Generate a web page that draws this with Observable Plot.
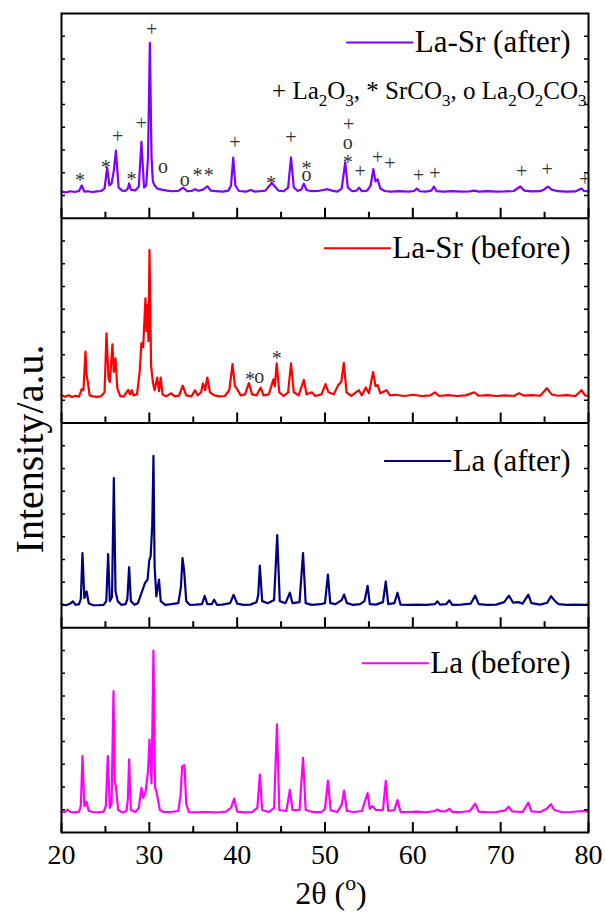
<!DOCTYPE html>
<html><head><meta charset="utf-8">
<script src="https://cdn.jsdelivr.net/npm/d3@7"></script>
<script src="https://cdn.jsdelivr.net/npm/@observablehq/plot@0.6"></script>
<style>
html,body{margin:0;padding:0;background:#fff;}
#chart svg{display:block;}
#chart svg, #chart svg text, #chart svg tspan{font-family:"Liberation Serif","Times New Roman",Times,serif !important;}
</style>
</head><body><div id="chart"></div>
<script>
// ---------- data (2θ, relative intensity within each panel, 0..100) ----------
const samples = ["La (before)", "La (after)", "La-Sr (before)", "La-Sr (after)"]; // bottom → top
const colors  = ["#FF00FF", "#000080", "#FF0000", "#8000FF"];

const laBefore = [
[20,10.2],[20.4,10],[20.7,11.2],[21,10],[21.5,9.8],[22.0,10.2],[22.2,13],[22.39,37.3],[22.6,13],[22.85,15],[23.1,10.5],[23.6,10],[24.2,9.8],[24.8,10.2],[25.05,13],[25.27,37.3],[25.5,12],[25.7,14],[25.92,69],[26.05,25],[26.19,22.6],[26.45,11],[26.9,9.8],[27.4,10.5],[27.55,16],[27.7,35.7],[27.9,11],[28.4,10],[28.8,12],[29.1,21.8],[29.3,17],[29.56,19.4],[29.85,30],[30.02,45.4],[30.25,24],[30.47,88.9],[30.65,22],[30.8,20.2],[31.2,11],[31.6,10],[32.4,10],[33.3,10.5],[33.55,18],[33.74,32.4],[34.0,32.9],[34.2,14],[34.5,10],[35.3,9.8],[36.3,10],[37.3,9.8],[38.2,10],[38.7,10.2],[39.3,12],[39.66,16.6],[40.0,10.2],[40.8,9.8],[41.7,10],[42.3,12],[42.58,28.3],[42.85,11],[43.6,10],[44.2,12],[44.53,52.8],[44.8,11],[45.6,10.5],[46.0,20.8],[46.3,11],[47.1,11],[47.5,36.5],[47.8,11],[48.6,10],[49.6,10],[50.0,11.5],[50.33,25.4],[50.65,10.8],[51.4,10],[51.9,13.5],[52.17,20.5],[52.5,10.5],[53.3,10],[54.2,10.5],[54.85,19.2],[55.1,11.5],[55.4,12.9],[55.8,11],[56.6,11],[56.92,25.2],[57.2,10.5],[57.9,11],[58.25,15.8],[58.6,10],[59.5,10],[60.5,10.2],[61.5,9.9],[62.5,10.5],[62.8,11.2],[63.2,10.3],[63.8,10.4],[64.15,11.6],[64.5,10],[65.5,10],[66.5,10.5],[67.1,14.1],[67.5,10.2],[68.5,9.9],[69.5,10],[70.5,10.8],[70.9,12.6],[71.3,10.3],[72.5,10],[73.15,14.6],[73.5,10.3],[74.5,10],[75.2,11.5],[75.73,13.8],[76.1,11],[77,9.9],[78,10],[79.3,10.5],[80,10.2]
];
const laAfter = [
[20,11.5],[20.5,11],[21,11.8],[21.3,12.9],[21.6,11.2],[22.0,11.5],[22.2,14],[22.39,36.5],[22.6,14.5],[22.85,17.8],[23.1,12],[23.6,11],[24.2,11],[24.8,11.2],[25.1,13],[25.31,36],[25.5,13],[25.75,15],[25.96,73.1],[26.15,18],[26.4,13],[26.8,11.2],[27.3,11.5],[27.5,14],[27.7,29.6],[27.9,13],[28.3,11.2],[28.7,12],[29.1,16.9],[29.5,21.8],[29.8,23.5],[30.0,33.2],[30.15,34.9],[30.33,50],[30.47,84],[30.6,30],[30.8,15.3],[31.1,23.5],[31.3,13],[31.8,11.2],[32.5,11.5],[33.3,12],[33.6,20],[33.78,34],[33.97,27.5],[34.2,13],[34.6,11.2],[35.3,11.3],[36.0,11.5],[36.3,15.6],[36.6,11.5],[37.1,11.5],[37.38,13.7],[37.7,11.2],[38.3,11.3],[39.2,12],[39.6,16.1],[40.0,11.8],[40.7,11.2],[41.5,11.3],[42.2,12.5],[42.4,16],[42.58,30.3],[42.85,13],[43.5,12],[44.2,13.5],[44.56,45.2],[44.85,13],[45.5,12],[46.0,17.1],[46.3,12],[47.1,12.5],[47.5,36.5],[47.8,12],[48.5,11.2],[49.5,11.5],[50.0,12],[50.33,26],[50.6,12],[51.2,11.5],[51.9,13.5],[52.17,16.2],[52.5,12],[53.2,11.2],[54.0,11.5],[54.5,13],[54.85,20.5],[55.1,11.5],[55.8,11.3],[56.6,12.5],[56.92,22.6],[57.2,11.5],[57.9,12],[58.25,17.1],[58.6,11.3],[59.5,11.2],[60.5,11.3],[61.5,11.2],[62.5,11.5],[62.8,12.9],[63.1,11.3],[63.8,11.5],[64.15,13.4],[64.5,11.2],[65.5,11.3],[66.6,11.8],[67.1,15.7],[67.5,11.5],[68.5,11.2],[69.5,11.3],[70.4,12.5],[70.94,15.7],[71.4,12.3],[72,12.5],[72.5,11.8],[73.15,16.2],[73.5,12],[74.5,11.3],[75.3,12.2],[75.73,15.4],[76.2,13],[76.6,11.5],[77.5,11.2],[78.5,11.3],[79.5,11.2],[80,11.3]
];
const laSrBefore = [
[20,13.5],[20.4,12.8],[20.8,13.6],[21.2,12.7],[21.6,13.3],[22.0,12.9],[22.3,16.5],[22.5,16],[22.73,34.9],[22.85,24],[23.0,20],[23.2,13.5],[23.6,13],[24.0,12.8],[24.5,13],[24.9,15],[25.12,43.8],[25.35,22],[25.5,20],[25.8,38.4],[25.95,25],[26.15,31.6],[26.35,17],[26.7,13],[27.1,13],[27.4,15],[27.6,16.1],[27.8,14],[28.0,16],[28.2,13.5],[28.6,14],[28.9,25],[29.1,39],[29.3,37],[29.56,60.9],[29.68,45],[29.8,57.7],[29.9,40],[30.02,84.5],[30.2,28],[30.4,20],[30.6,16],[30.9,22.2],[31.1,15.5],[31.3,22.2],[31.5,14],[31.9,13],[32.5,14.5],[32.9,13],[33.4,13.5],[33.8,18.2],[34.2,13.5],[34.8,13],[35.2,16],[35.5,13.5],[35.9,15],[36.1,19.4],[36.35,16],[36.6,22.2],[36.9,15],[37.4,13.5],[38.0,13],[38.6,13.2],[39.1,16],[39.47,28.8],[39.75,18],[40.0,16.5],[40.4,13.5],[40.9,14],[41.33,19.5],[41.7,14],[42.2,13.5],[42.68,17.3],[43.0,13.5],[43.6,14],[44.13,21.3],[44.3,18],[44.5,29.1],[44.8,15],[45.3,13.2],[45.8,15],[46.13,29.1],[46.45,15],[47.0,13.5],[47.59,21],[47.9,14],[48.5,15],[48.9,13.2],[49.6,14],[50.06,19],[50.4,15],[51.0,14],[51.5,18.5],[51.85,20],[52.14,29.4],[52.45,15],[53.0,13.2],[53.86,16],[54.2,13.5],[54.65,17.3],[55.0,14.5],[55.48,24.9],[55.75,18],[56.0,18.5],[56.3,14.5],[57.0,16],[57.4,13.5],[58.0,13.8],[59,13.2],[60,13.8],[61,13.2],[62,13.5],[62.5,15],[63,13.2],[64,13.6],[65,13.2],[66,13.5],[67,15],[67.5,13.3],[68.5,13.6],[69.5,13.2],[70.5,13.5],[71.5,13.2],[72.1,14.6],[72.6,13.4],[73.5,13.6],[74.5,13.3],[75.26,17],[75.8,14],[76.5,13.3],[77.5,13.6],[78.5,13.2],[79.2,16],[79.6,13.5],[80,13.2]
];
const laSrAfter = [
[20,13],[20.5,12.6],[21,13.2],[21.5,12.8],[22.0,13.3],[22.3,16],[22.6,13],[23,13.2],[23.5,12.8],[24,13.1],[24.5,13.3],[24.9,14.5],[25.2,24.8],[25.45,16],[25.7,17],[25.95,23],[26.2,33],[26.5,15],[26.9,13.5],[27.3,13.4],[27.55,14.5],[27.7,17],[27.9,14],[28.4,13.6],[28.8,15.5],[29.1,37.3],[29.4,15],[29.65,16],[29.85,30],[30.06,85.7],[30.25,30],[30.4,18],[30.6,16],[30.9,14.5],[31.4,14],[32,13.5],[32.6,13.2],[33.3,13.4],[33.85,15],[34.3,13.2],[34.8,13.3],[35.2,14.2],[35.6,13.4],[36.1,14],[36.6,15.6],[37,13.5],[37.6,13.2],[38.4,13.0],[39.0,13.5],[39.3,16],[39.55,29.6],[39.8,16],[40.2,13.3],[41,13],[41.55,13.8],[42,13],[42.5,13.2],[43.2,13.5],[43.6,15.5],[43.95,17.2],[44.3,15.5],[44.7,13.5],[45.3,13.2],[45.8,15],[46.13,29.7],[46.45,15],[46.9,13.3],[47.3,14],[47.59,16.9],[47.9,13.8],[48.5,13.2],[49.2,13.3],[49.8,13.8],[50.3,14.2],[50.8,13.5],[51.4,13],[51.9,14.5],[52.3,27.3],[52.6,15],[53.1,13.2],[53.6,13.5],[53.86,15],[54.2,13.2],[54.8,13.5],[55.2,16],[55.5,24],[55.75,18],[56.0,19],[56.3,14.5],[56.8,13.3],[57.5,13],[58.5,13.2],[59.5,13],[60.1,13.3],[60.46,14.5],[60.8,13.2],[61.5,13],[62.1,13.5],[62.4,15.5],[62.7,13.2],[63.5,13],[64.5,13.2],[65.5,13],[66.5,13.1],[67,13.5],[67.5,13],[68.5,13.2],[69.5,13],[70.5,13.1],[71.5,13.3],[72.24,15.5],[72.7,13.5],[73.5,13.1],[74.5,13.2],[75.0,14.2],[75.38,15.5],[75.8,14],[76.5,13.2],[77.5,13],[78.5,13.1],[79.2,14.5],[79.5,13.3],[80,13.2]
];
const seriesData = [laBefore, laAfter, laSrBefore, laSrAfter];

// phase markers: [2θ, relative height, symbol]
const laSrAfterMarks = [
[22.1,20.2,"*"],[25.05,26.7,"*"],[26.4,38.9,"+"],[27.97,20.7,"*"],[29.1,45.1,"+"],[30.25,91,"+"],[31.57,24.3,"o"],[34.04,18.1,"o"],[35.48,22.6,"*"],[36.77,22.6,"*"],[39.73,36,"+"],[43.85,18.9,"*"],[46.13,38.2,"+"],[47.9,26,"*"],[47.9,20.4,"o"],[52.6,29.3,"*"],[52.6,35.8,"o"],[52.7,44.8,"+"],[54.0,21.9,"+"],[56.0,28.7,"+"],[57.4,25.6,"+"],[60.66,19.7,"+"],[62.5,20.9,"+"],[72.4,21.9,"+"],[75.3,22.8,"+"],[79.6,18,"+"]
];
const laSrBeforeMarks = [[41.45,23.2,"*"],[42.5,21.9,"o"],[44.5,33.3,"*"]];
const phaseKey = "+ La2O3, * SrCO3, o La2O2CO3";

const xTicks = [20,30,40,50,60,70,80];
const xMinorTicks = [25,35,45,55,65,75];
const xTitle = "2θ (o)";
const yTitle = "Intensity/a.u.";

// ---------- layout ----------
const W = 605, H = 914, mL = 61, mR = 17, mT = 13, mB = 82;
const pxY = (H - mT - mB) / 400, pxX = (W - mL - mR) / 60;
const uy = px => px / pxY, ux = px => px / pxX;
const FONT = "'Liberation Serif','Times New Roman',Times,serif";
const panels = [0, 100, 200, 300];

const rows = seriesData.flatMap((pts, k) => pts.map(([t, v]) => ({sample: samples[k], theta: t, y: panels[k] + v})));
const markRows = [
  ...laSrAfterMarks.map(([t, v, s]) => ({theta: t, y: 300 + v, s})),
  ...laSrBeforeMarks.map(([t, v, s]) => ({theta: t, y: 200 + v, s}))
];
const majorRows = panels.flatMap(b => xTicks.map(x => ({x, b})));
const minorRows = panels.flatMap(b => xMinorTicks.map(x => ({x, b})));
const yTickRows = panels.flatMap(b => d3.range(1, 9).map(n => b + n * 100 / 9));

const legendFs = 31, legendGapRight = 18, legendLineLen = 67;
const legendTopPx = [35.5, 38, 30, 29];
const ctx = document.createElement("canvas").getContext("2d");
ctx.font = `${legendFs}px 'Liberation Serif'`;
const legendRows = samples.map((s, k) => {
  const w = ctx.measureText(s).width;
  const xEnd = 80 - ux(legendGapRight + w + 1);
  return {s, k, y: panels[k] + 100 - uy(legendTopPx[k]), x1: xEnd - ux(legendLineLen), x2: xEnd};
});

const plot = Plot.plot({
  width: W, height: H, marginTop: mT, marginBottom: mB, marginLeft: mL, marginRight: mR,
  style: {fontFamily: FONT, background: "#fff", color: "#000"},
  x: {domain: [20, 80]},
  y: {domain: [0, 400], axis: null},
  color: {domain: samples, range: colors},
  marks: [
    Plot.line(rows, {x: "theta", y: "y", z: "sample", stroke: "sample", strokeWidth: 2.2, strokeLinejoin: "round"}),
    Plot.ruleY([100, 200, 300], {stroke: "#000", strokeWidth: 2}),
    Plot.ruleX(majorRows, {x: "x", y1: "b", y2: d => d.b + uy(10), stroke: "#000", strokeWidth: 2}),
    Plot.ruleX(minorRows, {x: "x", y1: "b", y2: d => d.b + uy(6), stroke: "#000", strokeWidth: 2}),
    Plot.ruleY(yTickRows, {y: d => d, x1: 20, x2: 20 + ux(4), stroke: "#000", strokeWidth: 1.5}),
    Plot.ruleY(yTickRows, {y: d => d, x1: 80 - ux(4), x2: 80, stroke: "#000", strokeWidth: 1.5}),
    Plot.frame({stroke: "#000", strokeWidth: 2}),
    Plot.axisX({ticks: xTicks, tickSize: 0, tickPadding: 12, fontSize: 28, label: null, tickFormat: d => String(d)}),
    Plot.text([xTitle], {frameAnchor: "bottom", textAnchor: "middle", lineAnchor: "middle", dy: 61, dx: 6, fontSize: 32, fill: "#000"}),
    Plot.text([yTitle], {frameAnchor: "left", textAnchor: "middle", lineAnchor: "middle", rotate: -90, dx: -31, dy: 26, fontSize: 40, fill: "#000"}),
    // legends
    Plot.ruleY(legendRows, {y: "y", x1: "x1", x2: "x2", stroke: "s", strokeWidth: 2}),
    Plot.text(legendRows, {x: 80, y: "y", text: "s", textAnchor: "end", dx: -legendGapRight, fontSize: legendFs, fill: "#000"}),
    // phase key
    Plot.text([phaseKey], {x: 80, y: 400 - uy(77), textAnchor: "end", dx: -2, fontSize: 25, fill: "#000"}),
    // phase markers
    Plot.text(markRows.filter(d => d.s === "*"), {x: "theta", y: "y", text: "s", fontSize: 20, fill: "#333", dy: 4}),
    Plot.text(markRows.filter(d => d.s !== "*"), {x: "theta", y: "y", text: "s", fontSize: 20, fill: "#333", dy: -2})
  ]
});

// rich text: subscripts / superscripts as real tspans
const NS = "http://www.w3.org/2000/svg";
function rich(el, parts, fs) {
  el.textContent = "";
  let shift = 0;
  for (const [s, kind] of parts) {
    const t = document.createElementNS(NS, "tspan");
    t.textContent = s;
    const target = kind === "sub" ? 0.28 * fs : kind === "sup" ? -0.42 * fs : 0;
    if (target !== shift) { t.setAttribute("dy", target - shift); shift = target; }
    if (kind) t.setAttribute("font-size", 0.68 * fs);
    el.appendChild(t);
  }
}
plot.querySelectorAll("text").forEach(el => {
  if (el.textContent === phaseKey) {
    rich(el, phaseKey.split(/(\d)/).filter(s => s).map(s => [s, /^\d$/.test(s) ? "sub" : null]), 25);
  } else if (el.textContent === xTitle) {
    rich(el, [["2θ (", null], ["o", "sup"], [")", null]], 32);
  }
});

document.getElementById("chart").appendChild(plot);
</script>
</body></html>
